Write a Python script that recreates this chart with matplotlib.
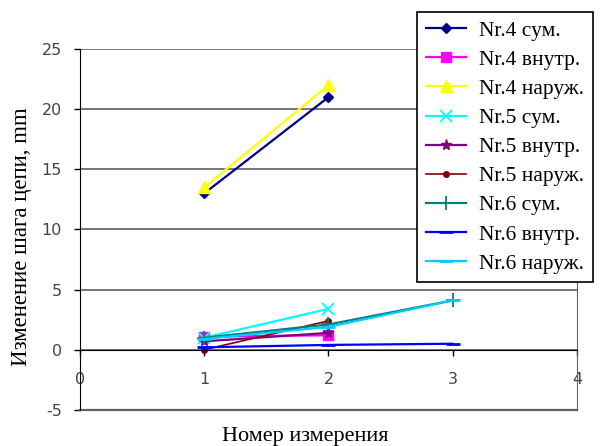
import matplotlib.pyplot as plt

plt.rcParams['axes.unicode_minus'] = False

# номер измерения
x_two = [1, 2]
x_three = [1, 2, 3]

nr4_sum = [13.0, 21.0]
nr4_vnutr = [1.1, 1.2]
nr4_naruzh = [13.5, 22.0]
nr5_sum = [1.0, 3.4]
nr5_vnutr = [0.7, 1.4]
nr5_naruzh = [0.0, 2.4]
nr6_sum = [1.0, 2.1, 4.1]
nr6_vnutr = [0.2, 0.4, 0.5]
nr6_naruzh = [0.9, 1.9, 4.1]

labels = ['Nr.4 сум.', 'Nr.4 внутр.', 'Nr.4 наруж.', 'Nr.5 сум.', 'Nr.5 внутр.',
          'Nr.5 наруж.', 'Nr.6 сум.', 'Nr.6 внутр.', 'Nr.6 наруж.']

fig = plt.figure(figsize=(6.06, 4.46), dpi=100)
ax = fig.add_axes([0.132, 0.081, 0.820, 0.809])

lw = 1.6
ax.plot(x_two, nr4_sum, color='#000080', marker='D', ms=5, lw=lw, label=labels[0])
ax.plot(x_two, nr4_vnutr, color='#FF00FF', marker='s', ms=7, lw=lw, label=labels[1])
ax.plot(x_two, nr4_naruzh, color='#FFFF00', marker='^', ms=9, lw=lw, label=labels[2])
ax.plot(x_two, nr5_sum, color='#00FFFF', marker='x', ms=9, mew=1.3, lw=lw, label=labels[3])
ax.plot(x_two, nr5_vnutr, color='#800080', marker='*', ms=8, lw=lw, label=labels[4])
ax.plot(x_two, nr5_naruzh, color='#800000', marker='o', ms=4, lw=1.2, label=labels[5])
ax.plot(x_three, nr6_sum, color='#008080', marker='+', ms=10, mew=1.3, lw=lw, label=labels[6])
ax.plot(x_three, nr6_vnutr, color='#0000FF', marker='_', ms=10, mew=2, lw=lw, label=labels[7])
ax.plot(x_three, nr6_naruzh, color='#00CCFF', marker='_', ms=10, mew=2, lw=lw, label=labels[8])

ax.set_xlim(0, 4)
ax.set_ylim(-5, 25)
ax.set_xticks([0, 1, 2, 3, 4])
ax.set_yticks([-5, 0, 5, 10, 15, 20, 25])
ax.yaxis.grid(True, color='#606060', lw=1.2)
ax.set_axisbelow(True)

ax.spines['top'].set_visible(False)
ax.spines['right'].set_color('#606060')
ax.spines['bottom'].set_position(('data', 0))
ax.spines['left'].set_color('black')
ax.axhline(-5, color='#606060', lw=1.6, clip_on=False)

ax.tick_params(axis='both', direction='out', length=4, width=1, labelsize=11.5,
               labelcolor='#444444')
ax.tick_params(axis='x', pad=12)
ax.tick_params(axis='y', pad=9)

fig.text(0.035, 0.469, 'Изменение шага цепи, mm', rotation=90, ha='center', va='center',
         family='Liberation Serif', fontsize=16.5)
fig.text(0.503, 0.022, 'Номер измерения', ha='center', va='center',
         family='Liberation Serif', fontsize=16)

leg = fig.legend(loc='upper left', bbox_to_anchor=(0.688, 0.973),
                 bbox_transform=fig.transFigure, prop={'family': 'Liberation Serif', 'size': 15.5},
                 frameon=True, fancybox=False, edgecolor='black', framealpha=1,
                 labelspacing=0.42, handlelength=1.9, handletextpad=0.6,
                 borderpad=0.4, borderaxespad=0)
leg.get_frame().set_linewidth(1.2)

fig.savefig('out.png', dpi=100)
